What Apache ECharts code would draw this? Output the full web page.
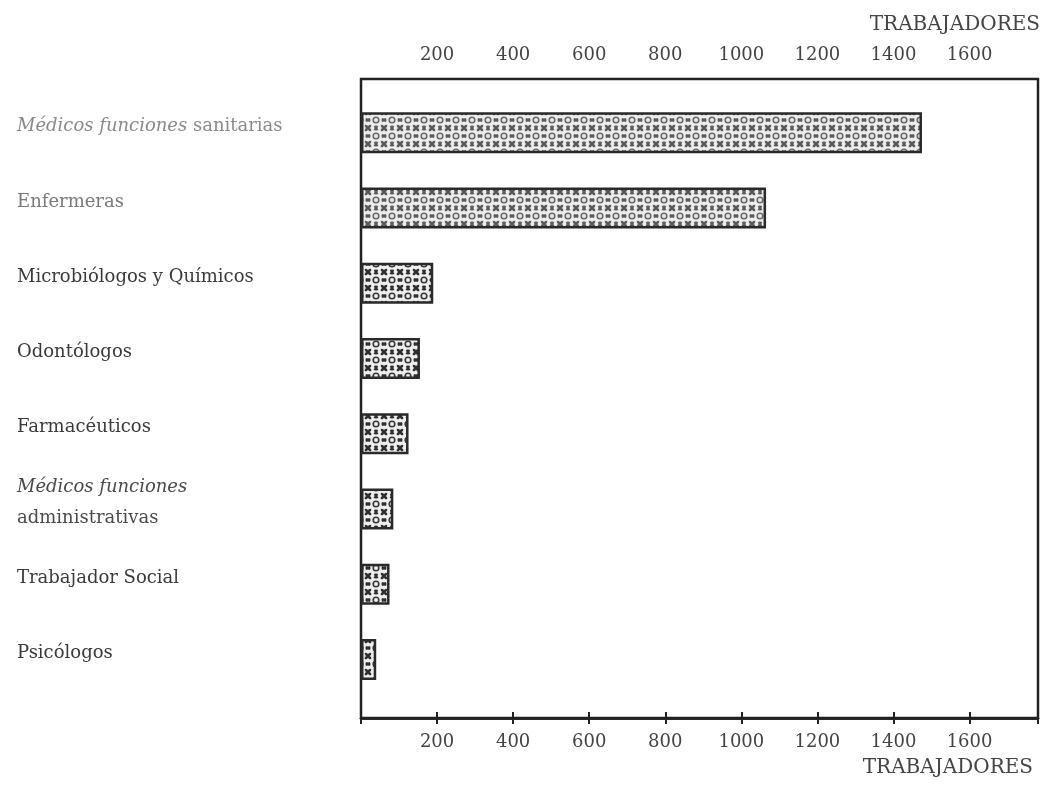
<!DOCTYPE html>
<html>
<head>
<meta charset="utf-8">
<script src="https://cdn.jsdelivr.net/npm/echarts@6/dist/echarts.min.js"></script>
<style>html,body{margin:0;padding:0;background:#fff;}#c{width:1045px;height:786px;}</style>
</head>
<body>
<div id="c"></div>
<script>
const categories = [
  'Médicos funciones sanitarias',
  'Enfermeras',
  'Microbiólogos y Químicos',
  'Odontólogos',
  'Farmacéuticos',
  'Médicos funciones\nadministrativas',
  'Trabajador Social',
  'Psicólogos'
];
const trabajadores = [1475, 1065, 190, 155, 125, 85, 75, 40];
const axisName = 'TRABAJADORES';
const axisMax = 1780;
const tickStep = 200;

function makePattern(bg, dot, ring) {
  const s = 16;
  const c = document.createElement('canvas');
  c.width = s; c.height = s;
  const g = c.getContext('2d');
  g.fillStyle = bg; g.fillRect(0, 0, s, s);
  g.fillStyle = dot; g.strokeStyle = ring; g.lineWidth = 1.6;
  g.beginPath(); g.arc(8, 8, 2.8, 0, Math.PI * 2); g.stroke();
  const pts = [[1.5,1.5,0.8],[14.5,1.5,-0.8],[1.5,14.5,-0.8],[14.5,14.5,0.8],[8,1.2,0],[1.2,8,1.57],[14.8,8,1.57],[8,14.8,0]];
  pts.forEach(p => {
    g.beginPath(); g.ellipse(p[0], p[1], 2.1, 1.3, p[2], 0, Math.PI * 2); g.fill();
  });
  return c;
}
const lightPat = makePattern('#ececec', '#5a5a5a', '#6a6a6a');
const darkPat = makePattern('#eeeeee', '#2e2e2e', '#3a3a3a');

const font = 'DejaVu Serif';
const labelColors = ['#8a8a8a', '#7a7a7a', '#3a3a3a', '#3a3a3a', '#3a3a3a', '#4a4a4a', '#3a3a3a', '#3a3a3a'];

function tickFmt(v) { return (v === 0 || v % tickStep !== 0) ? '' : String(v); }

const chart = echarts.init(document.getElementById('c'));
chart.setOption({
  backgroundColor: '#fff',
  animation: false,
  title: [
    { text: axisName, right: 5, top: 15, textStyle: { fontFamily: font, fontSize: 20, fontWeight: 'normal', color: '#444' }, padding: 0 },
    { text: axisName, right: 12, top: 758, textStyle: { fontFamily: font, fontSize: 20, fontWeight: 'normal', color: '#444' }, padding: 0 }
  ],
  grid: [
    { left: 361, right: 7, top: 79, bottom: 68, show: true, borderColor: '#222', borderWidth: 2.5, backgroundColor: 'transparent' },
    { left: 361, right: 7, top: 95, height: 602 }
  ],
  xAxis: [
    {
      gridIndex: 0, type: 'value', position: 'top', min: 0, max: axisMax, interval: tickStep,
      axisLine: { show: true, lineStyle: { color: '#222', width: 2.5 } },
      axisTick: { show: true, inside: false, length: 6, lineStyle: { color: '#222', width: 2 } },
      splitLine: { show: false },
      axisLabel: { formatter: tickFmt, margin: 15, fontFamily: font, fontSize: 18, color: '#444' }
    },
    {
      gridIndex: 0, type: 'value', position: 'bottom', min: 0, max: axisMax, interval: tickStep,
      axisLine: { show: true, lineStyle: { color: '#222', width: 2.5 } },
      axisTick: { show: true, inside: false, length: 6, lineStyle: { color: '#222', width: 2 } },
      splitLine: { show: false },
      axisLabel: { formatter: tickFmt, margin: 15, fontFamily: font, fontSize: 18, color: '#444' }
    },
    { gridIndex: 1, type: 'value', min: 0, max: axisMax, show: false }
  ],
  yAxis: [
    { gridIndex: 0, type: 'value', show: false, min: 0, max: 1 },
    {
      gridIndex: 1, type: 'category', data: categories, inverse: true,
      axisLine: { show: false }, axisTick: { show: false },
      axisLabel: {
        align: 'left', margin: 344, fontFamily: font, fontSize: 18, lineHeight: 31,
        padding: [0, 0, 12, 0],
        color: (v, i) => labelColors[i],
        formatter: function (v) {
          return v.split('\n').map(line => {
            if (line.indexOf('Médicos funciones') === 0) {
              const rest = line.slice('Médicos funciones'.length);
              return '{i|Médicos funciones}' + (rest ? '{n|' + rest + '}' : '');
            }
            return '{n|' + line + '}';
          }).join('\n');
        },
        rich: {
          i: { fontStyle: 'italic', fontFamily: font, fontSize: 18, lineHeight: 31 },
          n: { fontFamily: font, fontSize: 18, lineHeight: 31 }
        }
      }
    }
  ],
  series: [{
    type: 'bar', xAxisIndex: 2, yAxisIndex: 1, barWidth: 41,
    data: trabajadores.map((v, i) => ({
      value: v,
      itemStyle: { color: { image: i < 2 ? lightPat : darkPat, repeat: 'repeat' }, borderColor: '#2a2a2a', borderWidth: 2.5 }
    }))
  }]
});
</script>
</body>
</html>
